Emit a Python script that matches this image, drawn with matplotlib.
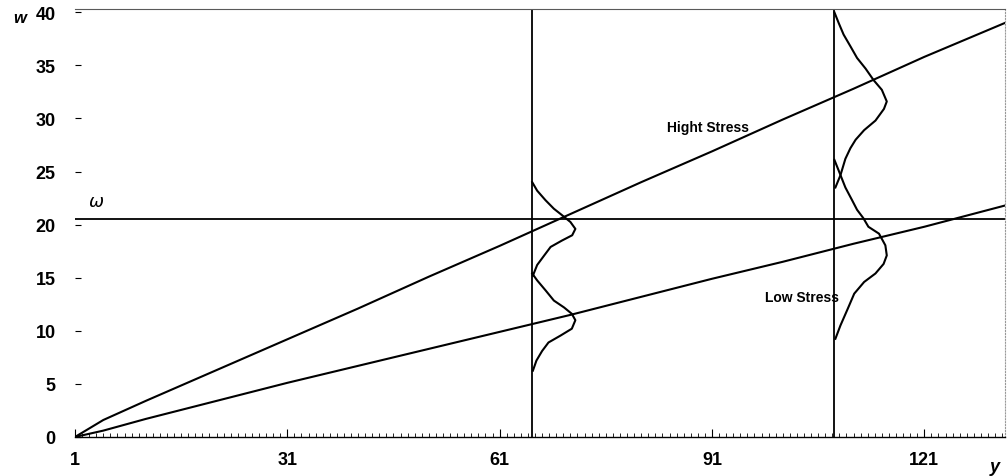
import matplotlib.pyplot as plt
from matplotlib.ticker import MultipleLocator, FixedLocator

plt.rcParams['font.family'] = ['Liberation Sans', 'DejaVu Sans']

# degradation paths
tiempo = [1, 5, 11, 21, 31, 41, 51, 61, 71, 81, 91, 101, 111, 121, 132.4]
alto = [0, 1.6, 3.4, 6.3, 9.2, 12.1, 15.1, 18.0, 21.0, 24.0, 26.9, 29.9, 32.8, 35.8, 39.0]
bajo = [0, 0.6, 1.7, 3.4, 5.1, 6.7, 8.3, 9.9, 11.5, 13.2, 14.9, 16.5, 18.2, 19.8, 21.8]

umbral = 20.5
cortes = [65.6, 108.3]

# densities drawn sideways on each cut (w value, offset in y units)
d1_alto_w = [24.0, 23.2, 22.3, 21.5, 20.9, 20.25, 19.6, 19.0, 18.5, 17.9, 17.1, 16.2, 15.2]
d1_alto_f = [0, 0.7, 1.88, 3.06, 4.2, 5.4, 6.1, 5.65, 4.2, 2.6, 1.7, 0.7, 0.1]
d1_bajo_w = [15.4, 14.75, 13.8, 12.85, 12.2, 11.6, 11.0, 10.2, 9.55, 8.9, 8.1, 7.2, 6.25]
d1_bajo_f = [0, 0.7, 1.9, 3.06, 4.5, 5.6, 6.1, 5.6, 4.0, 2.3, 1.4, 0.6, 0.1]
d2_alto_w = [40.0, 39.0, 37.9, 36.8, 35.7, 34.7, 33.6, 32.7, 31.6, 30.9, 29.8, 28.9, 28.0, 27.2, 26.2, 24.65, 23.5]
d2_alto_f = [0, 0.6, 1.3, 2.26, 3.2, 4.4, 5.55, 6.7, 7.4, 7.0, 5.8, 4.2, 3.0, 2.26, 1.55, 0.85, 0.14]
d2_bajo_w = [26.1, 25.1, 23.5, 22.3, 21.4, 20.6, 19.8, 19.15, 18.05, 17.1, 16.3, 15.4, 14.6, 13.5, 12.1, 10.5, 9.25]
d2_bajo_f = [0, 0.6, 1.55, 2.5, 3.2, 4.1, 4.8, 6.3, 7.2, 7.4, 6.95, 5.8, 4.2, 2.8, 1.9, 0.85, 0.14]

fig = plt.figure(figsize=(10.08, 4.77), dpi=100)
ax = fig.add_axes([0.0744, 0.0818, 0.9226, 0.897])

ax.plot(tiempo, alto, color='black', lw=1.5)
ax.plot(tiempo, bajo, color='black', lw=1.5)
ax.axhline(umbral, color='black', lw=1.3)
for c in cortes:
    ax.axvline(c, color='black', lw=1.3)

curvas = [(cortes[0], d1_alto_w, d1_alto_f), (cortes[0], d1_bajo_w, d1_bajo_f),
          (cortes[1], d2_alto_w, d2_alto_f), (cortes[1], d2_bajo_w, d2_bajo_f)]
for c, ws, fs in curvas:
    ax.plot([c + f for f in fs], ws, color='black', lw=1.5)

ax.text(84.6, 28.8, 'Hight Stress', fontsize=10, fontweight='bold')
ax.text(98.5, 12.8, 'Low Stress', fontsize=10, fontweight='bold')
ax.text(2.8, 21.8, r'$\omega$', fontsize=13)

ax.set_xlim(1, 132.4)
ax.set_ylim(0, 40.3)
ax.xaxis.set_major_locator(FixedLocator([1, 31, 61, 91, 121]))
ax.xaxis.set_minor_locator(MultipleLocator(1))
ax.yaxis.set_major_locator(MultipleLocator(5))
ax.tick_params(axis='x', which='major', direction='in', length=6, width=0.8, pad=10)
ax.tick_params(axis='x', which='minor', direction='in', length=3, width=0.6)
ax.tick_params(axis='y', direction='in', length=4, width=0.8, pad=14)
for lab in ax.get_xticklabels() + ax.get_yticklabels():
    lab.set_fontweight('bold')
    lab.set_fontsize(13)

ax.spines['left'].set_visible(False)
ax.spines['top'].set_color('0.35')
ax.spines['top'].set_linewidth(0.8)
ax.spines['right'].set_color('0.6')
ax.spines['right'].set_linestyle(':')
ax.spines['bottom'].set_linewidth(1.0)

fig.text(0.013, 0.952, 'w', fontsize=12, fontweight='bold', style='italic')
fig.text(0.982, 0.01, 'y', fontsize=13, fontweight='bold', style='italic')

fig.savefig('out.png', dpi=100)
